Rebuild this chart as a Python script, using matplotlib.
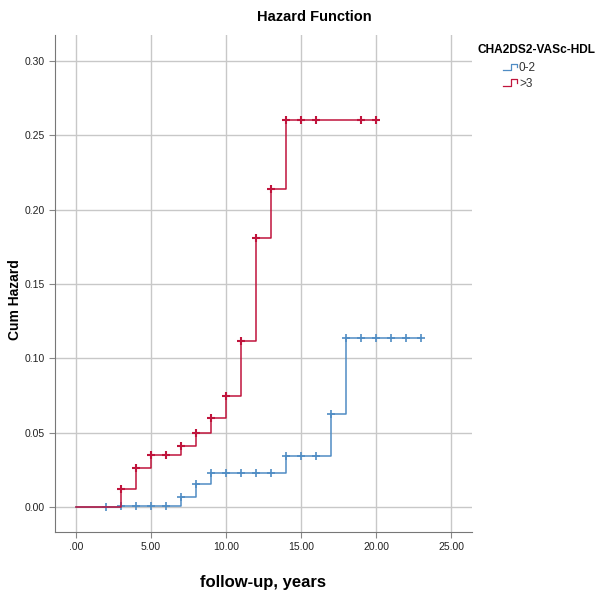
import numpy as np
import matplotlib
matplotlib.use('Agg')
import matplotlib.pyplot as plt
from matplotlib.legend_handler import HandlerBase
from matplotlib.lines import Line2D

plt.rcParams['font.family'] = ['Liberation Sans', 'DejaVu Sans']

# 0-2 组: 阶梯点 (时间, 累积风险)
low_t = [0, 3, 7, 8, 9, 14, 17, 18, 23]
low_h = [0.0, 0.001, 0.0067, 0.0153, 0.0227, 0.0345, 0.0628, 0.114, 0.114]
low_cens = [2, 3, 4, 5, 6, 7, 8, 9, 10, 11, 12, 13, 14, 15, 16, 17, 18, 19, 20, 21, 22, 23]

# >3 组
high_t = [0, 3, 4, 5, 7, 8, 9, 10, 11, 12, 13, 14, 20]
high_h = [0.0, 0.012, 0.026, 0.035, 0.041, 0.050, 0.060, 0.075, 0.112, 0.181, 0.214, 0.260, 0.260]
high_cens = [3, 4, 5, 6, 7, 8, 9, 10, 11, 12, 13, 14, 15, 16, 19, 20]

groups = ['0-2', '>3']
c_low = '#4f8cc4'
c_high = '#c0143c'

x_ticks = [0, 5, 10, 15, 20, 25]
x_labels = ['.00', '5.00', '10.00', '15.00', '20.00', '25.00']
y_ticks = [0, 0.05, 0.10, 0.15, 0.20, 0.25, 0.30]
y_labels = ['0.00', '0.05', '0.10', '0.15', '0.20', '0.25', '0.30']


def step_val(t, h, x):
    i = np.searchsorted(t, x, side='right') - 1
    return np.array(h)[i]


class StepHandler(HandlerBase):
    def create_artists(self, legend, orig_handle, xd, yd, w, h, fontsize, trans):
        xs = np.array([0, 0.5, 0.5, 0.9, 0.9]) * w - xd
        ys = np.array([0.1, 0.1, 0.9, 0.9, 0.45]) * h - yd
        ln = Line2D(xs, ys, color=orig_handle.get_color(), lw=0.9, transform=trans)
        return [ln]


fig = plt.figure(figsize=(6.07, 5.95), dpi=100)
ax = fig.add_axes([0.0906, 0.1059, 0.687, 0.8353])

l1, = ax.step(low_t, low_h, where='post', color=c_low, lw=1.1)
ax.plot(low_cens, step_val(low_t, low_h, low_cens), '+', color=c_low, ms=6, mew=1.2, ls='none')
l2, = ax.step(high_t, high_h, where='post', color=c_high, lw=1.1)
ax.plot(high_cens, step_val(high_t, high_h, high_cens), '+', color=c_high, ms=6, mew=1.5, ls='none')

ax.set_xlim(-1.4, 26.4)
ax.set_ylim(-0.0168, 0.3175)
ax.set_xticks(x_ticks)
ax.set_xticklabels(x_labels)
ax.set_yticks(y_ticks)
ax.set_yticklabels(y_labels)
ax.tick_params(labelsize=7.5, color='#888888', length=4, labelcolor='#222222')
ax.grid(True, color='#c8c8c8', lw=1)
ax.set_axisbelow(True)
for s in ['top', 'right']:
    ax.spines[s].set_visible(False)
for s in ['left', 'bottom']:
    ax.spines[s].set_color('#777777')

fig.text(314 / 607, 1 - 17 / 595, 'Hazard Function', fontsize=10.5, fontweight='bold',
         ha='center', va='center')
ax.set_xlabel('follow-up, years', fontsize=12, fontweight='bold', labelpad=16)
fig.text(15 / 607, 1 - 300 / 595, 'Cum Hazard', fontsize=10, fontweight='bold',
         rotation=90, ha='center', va='center')

fig.text(478 / 607, 1 - 50 / 595, 'CHA2DS2-VASc-HDL', fontsize=8.6, fontweight='bold',
         ha='left', va='center')
leg = fig.legend([l1, l2], groups, handler_map={Line2D: StepHandler()},
                 loc='upper left', bbox_to_anchor=(503 / 607, 1 - 62 / 595),
                 frameon=False, fontsize=8.5, handlelength=1.3, handletextpad=0.05,
                 labelspacing=0.3, borderpad=0, borderaxespad=0)
for t in leg.get_texts():
    t.set_color('#333333')

fig.savefig('out.png', dpi=100)
